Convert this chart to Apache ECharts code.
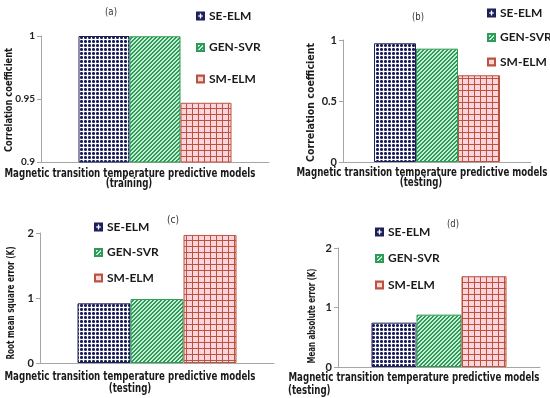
<!DOCTYPE html>
<html><head><meta charset="utf-8">
<script src="https://cdn.jsdelivr.net/npm/echarts@6/dist/echarts.min.js"></script>
<style>html,body{margin:0;padding:0;background:#fff}#c{width:550px;height:398px}</style>
</head><body><div id="c"></div>
<script>
// ---- data ----
const seriesNames = ['SE-ELM', 'GEN-SVR', 'SM-ELM'];
const categories = ['models'];
const panelTitles = ['(a)', '(b)', '(c)', '(d)'];
const yAxisNames = ['Correlation coefficient', 'Correlation coefficient', 'Root mean square error (K)', 'Mean absolute error (K)'];
const xAxisLine1 = 'Magnetic transition temperature predictive models';
const xAxisLine2 = ['(training)', '(testing)', '(testing)', '(testing)'];
const valuesA = [1.0, 0.9998, 0.947];
const valuesB = [0.973, 0.929, 0.711];
const valuesC = [0.918, 0.985, 1.97];
const valuesD = [0.745, 0.88, 1.525];
const ticksA = [0.9, 0.95, 1];
const ticksB = [0, 0.5, 1];
const ticksC = [0, 1, 2];
const ticksD = [0, 1, 2];

const panelValues = [valuesA, valuesB, valuesC, valuesD];
const panelTicks = [ticksA, ticksB, ticksC, ticksD];

// ---- layout (pixels) ----
const layout = [
  { grid: {left: 41, top: 36, width: 228, height: 126}, barW: 51,
    legend: {left: 196, top: 9, gap: 17.5}, title: [111, 12],
    yName: [9, 100, 104], x1: [130, 173.5], x2: [129, 184, 'center'], tick: 10 },
  { grid: {left: 343, top: 40, width: 188, height: 122}, barW: 42,
    legend: {left: 487, top: 6, gap: 10.5}, title: [418, 17.5],
    yName: [311, 102.5, 119], x1: [422, 172.5], x2: [421, 182.5, 'center'], tick: 11 },
  { grid: {left: 40, top: 233, width: 234, height: 130}, barW: 53,
    legend: {left: 94, top: 220, gap: 11.5}, title: [173, 220],
    yName: [11.5, 303, 113], x1: [130, 377], x2: [130, 389, 'center'], tick: 11 },
  { grid: {left: 338, top: 248, width: 202, height: 119}, barW: 45,
    legend: {left: 375, top: 225, gap: 12.5}, title: [453, 224],
    yName: [312, 316, 95], x1: [414, 377.5], x2: [288, 391, 'left'], tick: 11 }
];

// ---- patterns ----
function makePattern(kind) {
  const c = document.createElement('canvas');
  let s = kind === 2 ? 6 : 4;
  c.width = s; c.height = s;
  const g = c.getContext('2d');
  if (kind === 0) {
    g.fillStyle = '#ffffff'; g.fillRect(0, 0, s, s);
    g.fillStyle = '#1c1f58';
    g.fillRect(0, 1, 3, 1); g.fillRect(1, 0, 1, 3);
    g.fillStyle = '#6a6c98';
    g.fillRect(0, 0, 1, 1); g.fillRect(2, 0, 1, 1); g.fillRect(0, 2, 1, 1); g.fillRect(2, 2, 1, 1);
  } else if (kind === 1) {
    g.fillStyle = '#c8f0d6'; g.fillRect(0, 0, s, s);
    g.fillStyle = '#2f9a58';
    for (let x = 0; x < s; x++) for (let y = 0; y < s; y++) if ((x + y) % 4 < 2) g.fillRect(x, y, 1, 1);
  } else {
    g.fillStyle = '#ffd3dc'; g.fillRect(0, 0, s, s);
    g.fillStyle = '#b8553f';
    g.fillRect(0, 0, s, 1); g.fillRect(0, 0, 1, s);
  }
  return { image: c, repeat: 'repeat' };
}
const fills = [makePattern(0), makePattern(1), makePattern(2)];
const borders = ['#1c1f58', '#2f9a58', '#b8553f'];

const mctx = document.createElement('canvas').getContext('2d');
function fitScale(text, font, target) { mctx.font = font; return target / mctx.measureText(text).width; }

const axisGray = '#a6a6a6';
const grids = [], xAxes = [], yAxes = [], series = [], legends = [], graphics = [];
layout.forEach((L, i) => {
  grids.push(Object.assign({containLabel: false, outerBoundsMode: 'none'}, L.grid));
  xAxes.push({ type: 'category', gridIndex: i, data: categories,
    axisLine: {lineStyle: {color: axisGray, width: 1}}, axisTick: {show: false}, axisLabel: {show: false} });
  const t = panelTicks[i];
  const step = Math.round((t[1] - t[0]) * 1e6) / 1e6;
  yAxes.push({ type: 'value', gridIndex: i, min: t[0], max: t[t.length - 1], interval: step,
    axisLine: {show: true, lineStyle: {color: axisGray, width: 1}},
    axisTick: {show: true, length: 4, lineStyle: {color: axisGray}},
    splitLine: {show: false},
    axisLabel: {margin: 6, fontFamily: 'Lato, sans-serif', fontWeight: 'bold', fontSize: L.tick, color: '#222',
      formatter: v => String(Math.round(v * 1e6) / 1e6)} });
  seriesNames.forEach((n, k) => {
    series.push({ type: 'bar', name: n, xAxisIndex: i, yAxisIndex: i, barWidth: L.barW, barGap: '0%',
      data: [panelValues[i][k]],
      itemStyle: {color: fills[k], borderColor: borders[k], borderWidth: 1},
      emphasis: {disabled: true} });
  });
  legends.push({ orient: 'vertical', left: L.legend.left, top: L.legend.top, padding: 0,
    itemGap: L.legend.gap, itemWidth: 7, itemHeight: 7, itemTextGap: 2, icon: 'rect',
    data: seriesNames, selectedMode: false,
    textStyle: {fontFamily: 'Lato, sans-serif', fontWeight: 'bold', fontSize: 12, lineHeight: 14, color: '#1a1a1a'} });
  // panel title
  const tf = '11px DejaVu Sans';
  graphics.push({ type: 'text', x: L.title[0], y: L.title[1], scaleX: fitScale(panelTitles[i], tf, 12),
    style: {text: panelTitles[i], font: tf, fill: '#333', textAlign: 'center', textVerticalAlign: 'middle'} });
  // y axis name
  const yf = 'bold 11px DejaVu Sans';
  graphics.push({ type: 'text', x: L.yName[0], y: L.yName[1], rotation: Math.PI / 2,
    scaleX: fitScale(yAxisNames[i], yf, L.yName[2]),
    style: {text: yAxisNames[i], font: yf, fill: '#1a1a1a', textAlign: 'center', textVerticalAlign: 'middle'} });
  // x axis name, two lines
  const xf = 'bold 12px DejaVu Sans';
  const xs = fitScale(xAxisLine1, xf, 251);
  graphics.push({ type: 'text', x: L.x1[0], y: L.x1[1], scaleX: xs,
    style: {text: xAxisLine1, font: xf, fill: '#1a1a1a', textAlign: 'center', textVerticalAlign: 'middle'} });
  graphics.push({ type: 'text', x: L.x2[0], y: L.x2[1], scaleX: xs,
    style: {text: xAxisLine2[i], font: xf, fill: '#1a1a1a', textAlign: L.x2[2], textVerticalAlign: 'middle'} });
});

const chart = echarts.init(document.getElementById('c'), null, {renderer: 'canvas'});
chart.setOption({
  backgroundColor: '#ffffff',
  animation: false,
  grid: grids, xAxis: xAxes, yAxis: yAxes, series: series, legend: legends,
  graphic: graphics
});
</script></body></html>
